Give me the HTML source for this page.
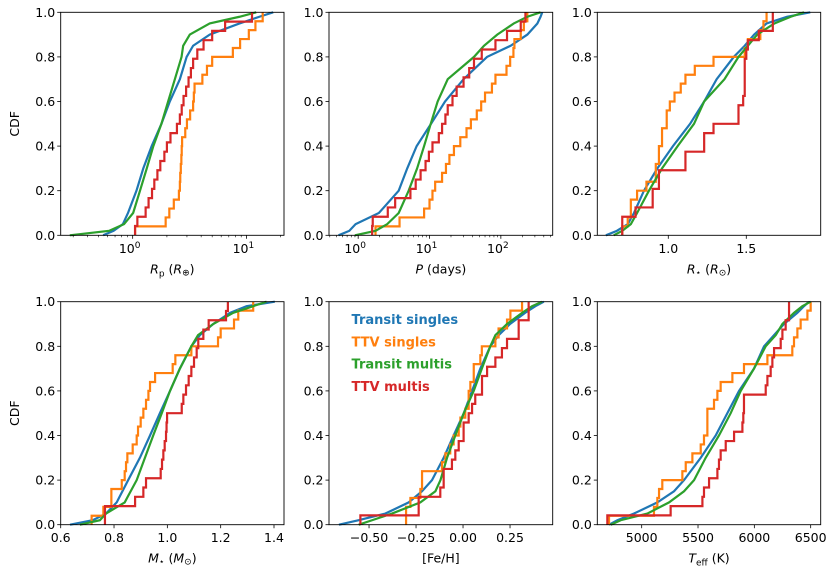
<!DOCTYPE html>
<html><head><meta charset="utf-8"><style>
html,body{margin:0;padding:0;background:#fff;}
svg{display:block;font-family:"DejaVu Sans","Liberation Sans",sans-serif;}
</style></head><body>
<svg id="chart" width="834" height="573" viewBox="0 0 834 573"></svg>
<script>
// ---------- data ----------
const levelsA = [0,0.02,0.05,0.1,0.2,0.3,0.4,0.5,0.6,0.7,0.8,0.85,0.9,0.95,0.98,1];
const levelsB = [0,0.02,0.05,0.1,0.15,0.2,0.3,0.4,0.5,0.6,0.7,0.8,0.85,0.9,0.95,0.98,1];
// Rp
const rpBlue = [0.55,0.68,0.82,0.91,1.08,1.24,1.47,1.79,2.12,2.6,2.98,3.4,4.76,8.7,13,17.2];
const rpGreen = [0.28,0.62,0.84,1.01,1.16,1.33,1.52,1.79,2.05,2.35,2.69,2.78,3.18,4.76,8.7,12.2];
const rpOrange = [1.05,1.95,2.1,2.3,2.55,2.6,2.62,2.65,2.68,2.7,2.72,2.9,3.0,3.2,3.4,3.45,3.5,4.1,4.5,5.0,7.6,8.8,10.5,12,13.9];
const rpRed = [1.05,1.1,1.3,1.38,1.48,1.55,1.65,1.75,1.9,2.0,2.15,2.45,2.6,2.7,2.8,2.95,3.1,3.25,3.4,3.7,4.2,5.0,6.5,11.2];
// P
const pBlue = [0.53,0.75,0.92,1.95,3.7,4.87,6.6,10.5,16.5,30,64,137,235,325,360,380];
const pGreen = [0.9,1.75,2.55,3.7,5.1,6.7,8.4,10.4,13,18,42,58,89,152,235,360];
const pOrange = [1.75,3.8,8.4,10,11,12,15,17,19,22,27,33,38,46,53,60,75,84,120,135,150,155,190,210,235];
const pRed = [1.57,1.6,2.6,3.3,5.4,6.4,7.5,8.8,9.8,11,13.5,15,16.7,18,21,24,30,36,42,54,84,122,190,221];
// R*
const rsBlue = [0.6,0.67,0.74,0.78,0.844,0.93,1.03,1.14,1.23,1.31,1.42,1.49,1.55,1.63,1.76,1.91];
const rsGreen = [0.65,0.705,0.76,0.8,0.876,0.96,1.06,1.165,1.23,1.36,1.45,1.51,1.57,1.68,1.785,1.87];
const rsOrange = [0.705,0.74,0.76,0.76,0.80,0.86,0.92,0.92,0.94,0.94,0.96,0.96,0.99,0.99,1.01,1.04,1.08,1.11,1.17,1.29,1.49,1.51,1.59,1.61,1.63];
const rsRed = [0.705,0.705,0.79,0.9,0.9,0.94,0.94,1.11,1.11,1.23,1.23,1.29,1.45,1.45,1.48,1.49,1.49,1.49,1.49,1.5,1.51,1.58,1.67,1.67];
// M*
const msBlue = [0.635,0.72,0.77,0.81,0.853,0.897,0.935,0.972,1.01,1.047,1.09,1.122,1.172,1.235,1.297,1.403];
const msGreen = [0.672,0.747,0.77,0.84,0.885,0.916,0.947,0.979,1.01,1.047,1.09,1.115,1.172,1.247,1.322,1.372];
const msOrange = [0.716,0.76,0.79,0.79,0.829,0.84,0.845,0.85,0.87,0.885,0.89,0.90,0.91,0.92,0.929,0.935,0.954,1.02,1.03,1.09,1.19,1.2,1.25,1.266,1.322];
const msRed = [0.766,0.766,0.879,0.91,0.92,0.975,0.98,0.985,0.99,0.995,0.997,0.999,1.054,1.06,1.07,1.08,1.09,1.1,1.11,1.116,1.135,1.155,1.22,1.227];
// [Fe/H]
const feBlue = [-0.66,-0.555,-0.413,-0.289,-0.218,-0.165,-0.103,-0.05,0.004,0.048,0.092,0.145,0.19,0.25,0.33,0.385,0.43];
const feGreen = [-0.555,-0.484,-0.378,-0.227,-0.147,-0.12,-0.085,-0.041,0.004,0.057,0.1,0.145,0.172,0.234,0.314,0.367,0.42];
const feOrange = [-0.303,-0.303,-0.28,-0.227,-0.218,-0.218,-0.112,-0.094,-0.068,-0.05,-0.023,-0.014,0.012,0.03,0.03,0.039,0.057,0.057,0.092,0.1,0.172,0.189,0.234,0.252,0.314];
const feRed = [-0.546,-0.236,-0.236,-0.121,-0.103,-0.103,-0.059,-0.041,-0.023,0.003,0.003,0.03,0.048,0.065,0.101,0.101,0.128,0.172,0.207,0.234,0.296,0.296,0.349,0.349];
// Teff
const tBlue = [4710,4784,4932,5139,5287,5376,5524,5657,5760,5864,5997,6086,6175,6263,6382,6441,6485];
const tGreen = [4725,4814,5050,5243,5376,5465,5568,5686,5790,5879,5997,6101,6190,6249,6352,6426,6500];
const tOrange = [4710,5109,5139,5154,5183,5361,5391,5450,5524,5553,5583,5583,5583,5642,5672,5701,5805,5908,6116,6337,6352,6382,6411,6471,6500];
const tRed = [4695,5257,5539,5553,5598,5672,5686,5701,5746,5820,5894,5902,5908,5908,6101,6116,6145,6160,6175,6234,6249,6278,6308,6308];
const yTicks = [0,0.2,0.4,0.6,0.8,1.0];
const yTickLabels = ["0.0","0.2","0.4","0.6","0.8","1.0"];
const legendLabels = ["Transit singles","TTV singles","Transit multis","TTV multis"];

// ---------- drawing ----------
const NS = "http://www.w3.org/2000/svg";
const svg = document.getElementById('chart');
const COL = {blue:"#1f77b4", orange:"#ff7f0e", green:"#2ca02c", red:"#d62728"};
function mk(tag, attrs, parent){
  const e = document.createElementNS(NS, tag);
  for (const k in attrs) e.setAttribute(k, attrs[k]);
  (parent||svg).appendChild(e);
  return e;
}
const rows = [[12.3,235.3],[301.7,524.7]];
const cols = [[60.7,284],[329,552.7],[597.3,820.7]];

const panels = [
 {name:"rp", r:0,c:0, log:true, min:0.233, max:21.4, ticks:[1,10], tl:[["10","0"],["10","1"]],
  levels:levelsA, blue:rpBlue, green:rpGreen, orange:rpOrange, red:rpRed, xl:'rp'},
 {name:"period", r:0,c:1, log:true, min:0.39, max:533, ticks:[1,10,100], tl:[["10","0"],["10","1"],["10","2"]],
  levels:levelsA, blue:pBlue, green:pGreen, orange:pOrange, red:pRed, xl:'p'},
 {name:"rstar", r:0,c:2, log:false, min:0.545, max:1.977, ticks:[1.0,1.5], tl:["1.0","1.5"],
  levels:levelsA, blue:rsBlue, green:rsGreen, orange:rsOrange, red:rsRed, xl:'rs'},
 {name:"mstar", r:1,c:0, log:false, min:0.6, max:1.4375, ticks:[0.6,0.8,1.0,1.2,1.4], tl:["0.6","0.8","1.0","1.2","1.4"],
  levels:levelsA, blue:msBlue, green:msGreen, orange:msOrange, red:msRed, xl:'ms'},
 {name:"feh", r:1,c:1, log:false, min:-0.713, max:0.477, ticks:[-0.5,-0.25,0,0.25], tl:["\u22120.50","\u22120.25","0.00","0.25"],
  levels:levelsB, blue:feBlue, green:feGreen, orange:feOrange, red:feRed, xl:'fe'},
 {name:"teff", r:1,c:2, log:false, min:4606, max:6589, ticks:[5000,5500,6000,6500], tl:["5000","5500","6000","6500"],
  levels:levelsB, blue:tBlue, green:tGreen, orange:tOrange, red:tRed, xl:'t'}
];

panels.forEach(p=>{
  const [x0,x1] = cols[p.c], [y0,y1] = rows[p.r];
  const g = mk('g',{});
  
  
  const sx = v => p.log
    ? x0 + (Math.log10(v)-Math.log10(p.min))/(Math.log10(p.max)-Math.log10(p.min))*(x1-x0)
    : x0 + (v-p.min)/(p.max-p.min)*(x1-x0);
  const sy = v => y1 - v*(y1-y0);
  const clip = 'clip-'+p.name;
  const cp = mk('clipPath',{id:clip},g); mk('rect',{x:x0,y:y0-2,width:x1-x0,height:y1-y0+4},cp);
  [['blue',p.blue],['orange',null],['green',p.green],['red',null]].forEach(([k,arr])=>{
    let d;
    if (arr) {
      d = arr.map((v,i)=>(i?'L':'M')+sx(v).toFixed(2)+','+sy(p.levels[i]).toFixed(2)).join('');
    } else {
      const s = p[k].slice().sort((a,b)=>a-b), n = s.length;
      d = 'M'+sx(s[0]).toFixed(2)+','+sy(0).toFixed(2);
      s.forEach((v,i)=>{
        d += 'L'+sx(v).toFixed(2)+','+sy(i/n).toFixed(2)+'L'+sx(v).toFixed(2)+','+sy((i+1)/n).toFixed(2);
      });
    }
    const path = mk('path',{d:d,fill:'none',stroke:COL[k],'stroke-width':2.2,'stroke-linejoin':'miter','clip-path':'url(#'+clip+')'},g);
    
    
  });
  const fr = mk('rect',{x:x0,y:y0,width:x1-x0,height:y1-y0,fill:'none',stroke:'#000','stroke-width':0.9},g);
  
  
  yTicks.forEach((t,i)=>{
    const y = sy(t);
    mk('line',{x1:x0-3.5,x2:x0,y1:y,y2:y,stroke:'#000','stroke-width':0.8},g);
    const tx = mk('text',{x:x0-5.5,y:y+4.5,'text-anchor':'end','font-size':12.5,fill:'#000'},g);
    tx.textContent = yTickLabels[i];
    
    
  });
  if (p.log) {
    for (let e=-1;e<=3;e++) for (let m=2;m<=9;m++){
      const v = m*Math.pow(10,e);
      if (v<p.min||v>p.max) continue;
      const x = sx(v);
      mk('line',{x1:x,x2:x,y1:y1,y2:y1+2,stroke:'#000','stroke-width':0.6},g);
    }
  }
  p.ticks.forEach((t,i)=>{
    const x = sx(t);
    mk('line',{x1:x,x2:x,y1:y1,y2:y1+3.5,stroke:'#000','stroke-width':0.8},g);
    const tx = mk('text',{x:x,y:y1+17.5,'text-anchor':'middle','font-size':12.5,fill:'#000'},g);
    if (Array.isArray(p.tl[i])) {
      tx.textContent = p.tl[i][0];
      const sp = mk('tspan',{dy:-5,'font-size':9},tx); sp.textContent = p.tl[i][1];
      tx.setAttribute('x', x-3);
    } else tx.textContent = p.tl[i];
    
    
  });
  const lx = (x0+x1)/2, ly = y1+38;
  const xt = mk('text',{x:lx,y:ly,'text-anchor':'middle','font-size':12.5,fill:'#000'},g);
  
  
  const it = (s)=>{const t=mk('tspan',{'font-style':'italic'},xt);t.textContent=s;return t;};
  const nt = (s,extra)=>{const t=mk('tspan',extra||{},xt);t.textContent=s;return t;};
  if (p.xl==='rp'){ it('R'); nt('p',{'font-size':9,dy:3}); nt(' (',{dy:-3}); it('R'); nt('\u2295',{'font-size':9,dy:2}); nt(')',{dy:-2}); }
  if (p.xl==='p'){ it('P'); nt(' (days)'); }
  if (p.xl==='rs'){ it('R'); nt('\u22c6',{'font-size':9,dy:2}); nt(' (',{dy:-2}); it('R'); nt('\u2299',{'font-size':9,dy:2}); nt(')',{dy:-2}); }
  if (p.xl==='ms'){ it('M'); nt('\u22c6',{'font-size':9,dy:2}); nt(' (',{dy:-2}); it('M'); nt('\u2299',{'font-size':9,dy:2}); nt(')',{dy:-2}); }
  if (p.xl==='fe'){ nt('[Fe/H]'); }
  if (p.xl==='t'){ it('T'); nt('eff',{'font-size':9,dy:3}); nt(' (K)',{dy:-3}); }
  if (p.c===0){
    const cy = (y0+y1)/2;
    const yt = mk('text',{x:19,y:cy,'text-anchor':'middle','font-size':12.5,fill:'#000',transform:'rotate(-90 19 '+cy+')'},g);
    yt.textContent = 'CDF';
    
    
  }
});

const lg = mk('g',{});


const lcols = [COL.blue, COL.orange, COL.green, COL.red];
legendLabels.forEach((s,i)=>{
  const t = mk('text',{x:351.5,y:324+i*22.3,'font-size':13,'font-weight':'bold',fill:lcols[i]},lg);
  t.textContent = s;
  
  
});
</script>
</body></html>
